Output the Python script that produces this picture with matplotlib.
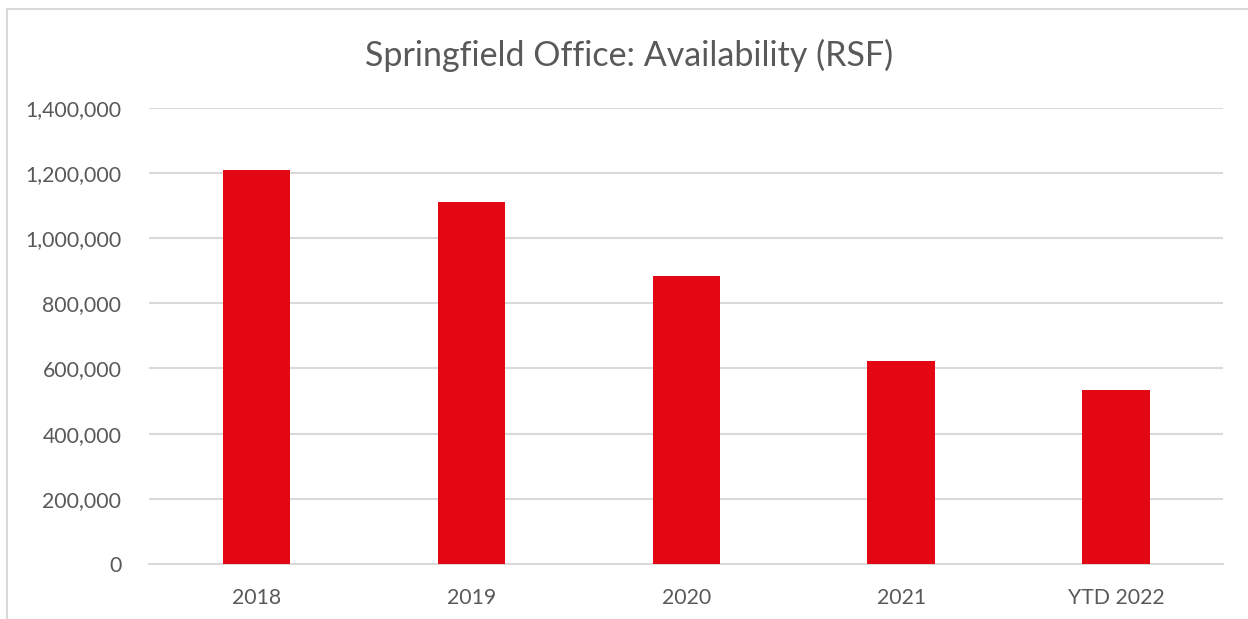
"""Springfield Office: Availability (RSF) bar chart."""
import matplotlib
matplotlib.use("Agg")
import matplotlib.pyplot as plt
from matplotlib.patches import Rectangle
from matplotlib.ticker import FuncFormatter

categories = ["2018", "2019", "2020", "2021", "YTD 2022"]
availability = [1210000, 1110000, 884000, 622000, 535000]

BAR_COLOR = "#e30613"
GRID_COLOR = "#d9d9d9"
TEXT_COLOR = "#595959"

plt.rcParams["font.family"] = ["Lato", "DejaVu Sans"]


def main():
    fig = plt.figure(figsize=(12.48, 6.19), dpi=100)
    ax = fig.add_axes([0.1196, 0.0889, 0.9802 - 0.1196, 0.826 - 0.0889])

    x = range(len(categories))
    ax.bar(x, availability, width=0.313, color=BAR_COLOR, zorder=3)

    ax.set_xlim(-0.5, len(categories) - 0.5)
    ax.set_ylim(0, 1400000)
    ax.set_yticks(range(0, 1400001, 200000))
    ax.yaxis.set_major_formatter(FuncFormatter(lambda v, p: f"{int(v):,}"))
    ax.set_xticks(list(x))
    ax.set_xticklabels(categories)

    ax.grid(axis="y", color=GRID_COLOR, linewidth=1.5, zorder=0)
    for side in ("top", "right", "left"):
        ax.spines[side].set_visible(False)
    ax.spines["bottom"].set_color(GRID_COLOR)
    ax.spines["bottom"].set_linewidth(1.5)
    ax.tick_params(axis="both", length=0, labelsize=15.3, labelcolor=TEXT_COLOR)
    ax.tick_params(axis="y", pad=20)
    ax.tick_params(axis="x", pad=17)

    fig.text(0.504, 0.911, "Springfield Office: Availability (RSF)",
             ha="center", va="center", fontsize=24.5, color=TEXT_COLOR)

    # chart-area frame (cropped at right and bottom in the original)
    fig.patches.append(Rectangle((7 / 1248, -0.1), 1.2, 0.1 + 1 - 9 / 619,
                                 transform=fig.transFigure, fill=False,
                                 edgecolor=GRID_COLOR, linewidth=1.5))

    fig.savefig("out.png", dpi=100)


if __name__ == "__main__":
    main()
